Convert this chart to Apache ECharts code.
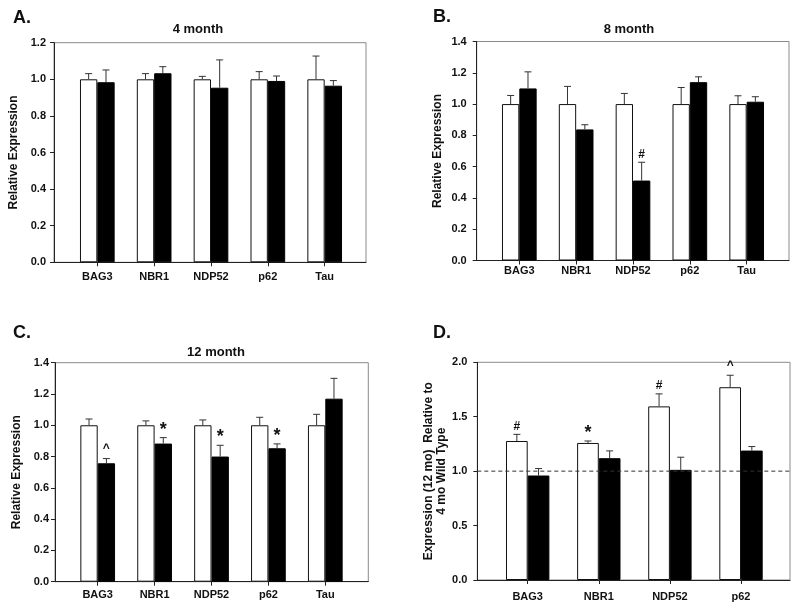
<!DOCTYPE html>
<html>
<head>
<meta charset="utf-8">
<script src="https://cdn.jsdelivr.net/npm/echarts@6/dist/echarts.min.js"></script>
<style>
html,body{margin:0;padding:0;background:#fff;}
#chart{width:800px;height:611px;}
</style>
</head>
<body>
<div id="chart"></div>
<script>
// ---------- DATA ----------
const genes5 = ['BAG3', 'NBR1', 'NDP52', 'p62', 'Tau'];
const genes4 = ['BAG3', 'NBR1', 'NDP52', 'p62'];

// Panel A: 4 month
const aWhite = [1.0, 1.0, 1.0, 1.0, 1.0];
const aWhiteErr = [0.031, 0.031, 0.016, 0.042, 0.127];
const aBlack = [0.984, 1.033, 0.954, 0.991, 0.965];
const aBlackErr = [0.067, 0.036, 0.152, 0.027, 0.028];

// Panel B: 8 month
const bWhite = [1.0, 1.0, 1.0, 1.0, 1.0];
const bWhiteErr = [0.055, 0.113, 0.068, 0.106, 0.053];
const bBlack = [1.10, 0.838, 0.511, 1.140, 1.015];
const bBlackErr = [0.106, 0.030, 0.117, 0.034, 0.032];
const bBlackMarks = ['', '', '#', '', ''];

// Panel C: 12 month
const cWhite = [1.0, 1.0, 1.0, 1.0, 1.0];
const cWhiteErr = [0.040, 0.028, 0.034, 0.051, 0.070];
const cBlack = [0.757, 0.883, 0.800, 0.853, 1.170];
const cBlackErr = [0.030, 0.038, 0.072, 0.028, 0.130];
const cBlackMarks = ['^', '*', '*', '*', ''];

// Panel D: 12 mo relative to 4 mo wild type
const dWhite = [1.277, 1.259, 1.595, 1.771];
const dWhiteErr = [0.061, 0.018, 0.115, 0.110];
const dWhiteMarks = ['#', '*', '#', '^'];
const dBlack = [0.960, 1.119, 1.012, 1.189];
const dBlackErr = [0.064, 0.067, 0.116, 0.037];
const dRefLine = 1.0;

// ---------- LAYOUT ----------
const FONT = "'Liberation Sans', Arial, sans-serif";
const GAP = 0.39;
const panels = [
  {cats: genes5, w: aWhite, we: aWhiteErr, b: aBlack, be: aBlackErr, wm: null, bm: null,
   max: 1.2, interval: 0.2, frame: {left: 54, right: 366, top: 42.7, bottom: 262.3},
   bars: {left: 68.9, width: 284.2}, yName: 'Relative Expression', nameGap: 34, labMargin: 8, xLabMargin: 9},
  {cats: genes5, w: bWhite, we: bWhiteErr, b: bBlack, be: bBlackErr, wm: null, bm: bBlackMarks,
   max: 1.4, interval: 0.2, frame: {left: 476.7, right: 789, top: 41.5, bottom: 260.5},
   bars: {left: 490.9, width: 284.2}, yName: 'Relative Expression', nameGap: 33, labMargin: 10, xLabMargin: 5},
  {cats: genes5, w: cWhite, we: cWhiteErr, b: cBlack, be: cBlackErr, wm: null, bm: cBlackMarks,
   max: 1.4, interval: 0.2, frame: {left: 55, right: 368.3, top: 362.7, bottom: 581.7},
   bars: {left: 69.25, width: 284.5}, yName: 'Relative Expression', nameGap: 32, labMargin: 6, xLabMargin: 8},
  {cats: genes4, w: dWhite, we: dWhiteErr, b: dBlack, be: dBlackErr, wm: dWhiteMarks, bm: null,
   max: 2.0, interval: 0.5, frame: {left: 477.3, right: 790, top: 362.3, bottom: 580},
   bars: {left: 492.15, width: 284.4}, yName: 'Expression (12 mo)  Relative to\n4 mo Wild Type', nameGap: 27, labMargin: 10, xLabMargin: 11}
];

const grid = [], xAxis = [], yAxis = [], series = [];

panels.forEach((p, i) => {
  const f = p.frame;
  const h = f.bottom - f.top;
  grid.push({left: f.left, width: f.right - f.left, top: f.top, height: h,
             show: true, borderColor: '#8a8a8a', borderWidth: 1, backgroundColor: 'transparent'});
  xAxis.push({type: 'value', gridIndex: i, min: 0, max: 1, show: true,
              axisLine: {show: true, onZero: false, lineStyle: {color: '#222', width: 1}},
              axisTick: {show: false}, axisLabel: {show: false}, splitLine: {show: false}});
  yAxis.push({type: 'value', gridIndex: i, min: 0, max: p.max, interval: p.interval,
              axisLine: {show: true, lineStyle: {color: '#222', width: 1}},
              axisTick: {show: true, inside: false, length: 4, lineStyle: {color: '#222'}},
              axisLabel: {color: '#111', fontFamily: FONT, fontSize: 11, fontWeight: 'bold', margin: p.labMargin,
                          formatter: v => v.toFixed(1)},
              splitLine: {show: false},
              name: p.yName, nameLocation: 'middle', nameGap: p.nameGap,
              nameTextStyle: {color: '#111', fontFamily: FONT, fontSize: 12, fontWeight: 'bold', lineHeight: 13}});
});

panels.forEach((p, i) => {
  const f = p.frame;
  const h = f.bottom - f.top;
  const gi = 4 + i;
  grid.push({left: p.bars.left, width: p.bars.width, top: f.top, height: h});
  xAxis.push({type: 'category', gridIndex: gi, data: p.cats,
              axisLine: {show: false},
              axisTick: {show: true, alignWithLabel: true, length: 4, lineStyle: {color: '#222'}},
              axisLabel: {color: '#111', fontFamily: FONT, fontSize: 11, fontWeight: 'bold', margin: p.xLabMargin},
              splitLine: {show: false}});
  yAxis.push({type: 'value', gridIndex: gi, min: 0, max: p.max, show: false, splitLine: {show: false}});

  series.push({type: 'bar', xAxisIndex: gi, yAxisIndex: gi, data: p.w,
               barGap: '0%', barCategoryGap: (GAP * 100) + '%',
               itemStyle: {color: '#fff', borderColor: '#111', borderWidth: 1}, silent: true, z: 2});
  series.push({type: 'bar', xAxisIndex: gi, yAxisIndex: gi, data: p.b,
               barGap: '0%', barCategoryGap: (GAP * 100) + '%',
               itemStyle: {color: '#000', borderColor: '#000', borderWidth: 1}, silent: true, z: 2});

  const rows = [], marks = [];
  p.cats.forEach((c, k) => {
    rows.push([k, p.w[k], p.we[k], 0]); marks.push(p.wm ? p.wm[k] : '');
    rows.push([k, p.b[k], p.be[k], 1]); marks.push(p.bm ? p.bm[k] : '');
  });
  series.push({type: 'custom', xAxisIndex: gi, yAxisIndex: gi, data: rows, z: 5, silent: true,
    encode: {x: 0, y: 1},
    renderItem: function (params, api) {
      const cat = api.value(0), mean = api.value(1), sem = api.value(2), s = api.value(3);
      const bandW = api.size([1, 0])[0];
      const barW = bandW * (1 - GAP) / 2;
      const base = api.coord([cat, mean]);
      const cx = base[0] + (s === 0 ? -barW / 2 : barW / 2);
      const y0 = base[1];
      const y1 = api.coord([cat, mean + sem])[1];
      const st = {stroke: '#333', lineWidth: 1};
      const children = [
        {type: 'line', shape: {x1: cx, y1: y0, x2: cx, y2: y1}, style: st},
        {type: 'line', shape: {x1: cx - 3.5, y1: y1, x2: cx + 3.5, y2: y1}, style: st}
      ];
      const m = marks[params.dataIndex];
      if (m) {
        const star = (m === '*');
        children.push({type: 'text', x: cx, y: y1 - (m === '^' ? 4 : (star ? -1 : 2)),
          style: {text: m, fill: '#111', fontFamily: FONT, fontWeight: 'bold',
                  fontSize: star ? 18 : 12, align: 'center', verticalAlign: 'bottom'}});
      }
      return {type: 'group', children: children};
    }});
});

// reference dashed line in panel D (frame grid 3)
series.push({type: 'line', xAxisIndex: 3, yAxisIndex: 3, data: [[0, dRefLine], [1, dRefLine]],
             symbol: 'none', silent: true, z: 6,
             lineStyle: {color: '#333', width: 1, type: [4, 3]}});

const textEl = (t, x, y, size, align) => ({type: 'text', x: x, y: y, silent: true,
  style: {text: t, fill: '#111', fontFamily: FONT, fontWeight: 'bold', fontSize: size,
          align: align, verticalAlign: 'middle'}});

const chart = echarts.init(document.getElementById('chart'), null, {renderer: 'canvas'});
chart.setOption({
  animation: false,
  backgroundColor: '#fff',
  grid: grid, xAxis: xAxis, yAxis: yAxis, series: series,
  graphic: [
    textEl('A.', 13, 18, 18, 'left'),
    textEl('4 month', 198, 29, 13, 'center'),
    textEl('B.', 433, 17, 18, 'left'),
    textEl('8 month', 629, 29.5, 13, 'center'),
    textEl('C.', 13, 333, 18, 'left'),
    textEl('12 month', 216, 352, 13, 'center'),
    textEl('D.', 433, 333, 18, 'left')
  ]
});
</script>
</body>
</html>
